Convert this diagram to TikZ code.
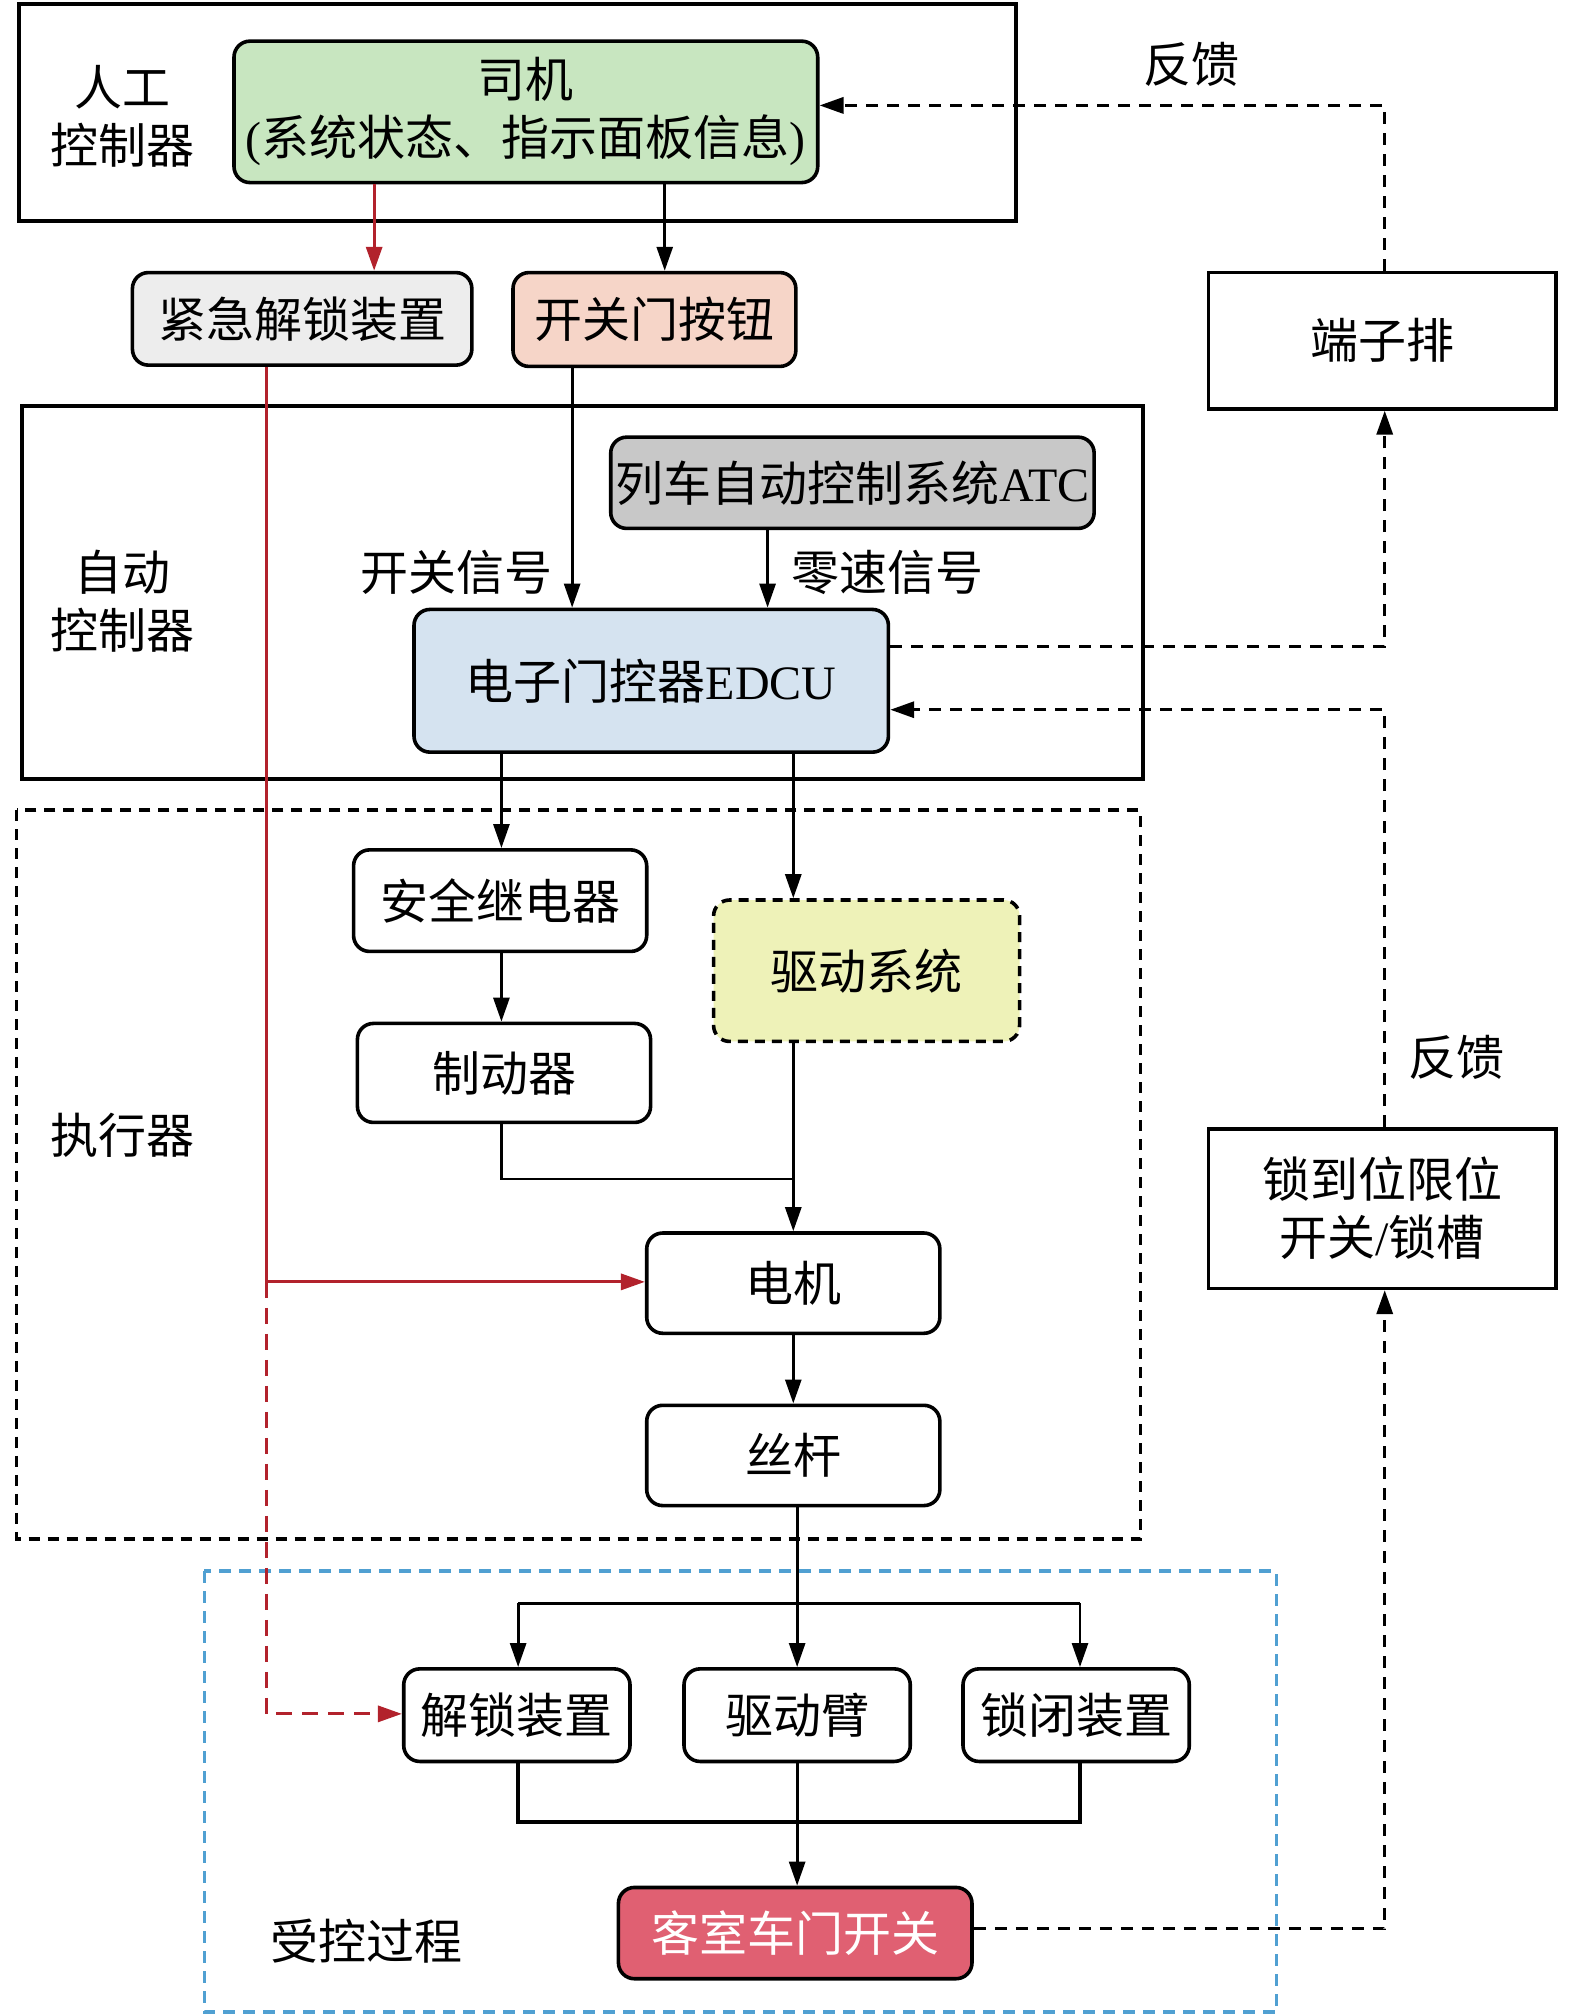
\documentclass[tikz,border=0pt]{standalone}
\usepackage{fontspec}
\setmainfont{Liberation Serif}
\newfontfamily\cjk{Noto Sans CJK SC}
\usetikzlibrary{arrows.meta}
\definecolor{cgreen}{RGB}{200,230,192}
\definecolor{cgraylt}{RGB}{237,237,237}
\definecolor{cpink}{RGB}{246,213,200}
\definecolor{cgray}{RGB}{200,200,200}
\definecolor{cblue}{RGB}{213,227,240}
\definecolor{cyellow}{RGB}{238,242,184}
\definecolor{cred}{RGB}{224,96,114}
\definecolor{redline}{RGB}{178,34,44}
\definecolor{blueline}{RGB}{80,160,210}
\newcommand\U{0.6429pt}
\tikzset{
  box/.style={draw=black, line width=1.8pt, rounded corners=8pt, inner sep=0pt, align=center, font=\cjk\fontsize{24pt}{29pt}\selectfont},
  sqbox/.style={draw=black, line width=1.8pt, inner sep=0pt, align=center, font=\cjk\fontsize{24pt}{29pt}\selectfont},
  lbl/.style={inner sep=0pt, align=center, font=\cjk\fontsize{24pt}{29pt}\selectfont},
  frame/.style={draw=black, line width=2pt},
  dframe/.style={draw=black, line width=1.7pt, dash pattern=on 5.5pt off 4pt},
  bframe/.style={draw=blueline, line width=1.7pt, dash pattern=on 6pt off 4pt},
  arr/.style={draw=black, line width=1.4pt, -{Triangle[length=12pt,width=8pt]}},
  ln/.style={draw=black, line width=1.4pt},
  thk/.style={draw=black, line width=1.8pt},
  rarr/.style={draw=redline, line width=1.6pt, -{Triangle[length=12pt,width=8pt]}},
  rln/.style={draw=redline, line width=1.6pt},
  rdarr/.style={draw=redline, line width=1.6pt, dash pattern=on 8pt off 5pt, -{Triangle[length=12pt,width=8pt]}},
  fb/.style={draw=black, line width=1.7pt, dash pattern=on 6pt off 4.5pt},
  fbarr/.style={fb, -{Triangle[length=12pt,width=8pt]}},
}
\begin{document}
\begin{tikzpicture}[x=0.6429pt,y=-0.6429pt]
\useasboundingbox (0,0) rectangle (1225,1568);
\fill[white] (0,0) rectangle (1225,1568);

% group frames
\draw[frame] (15,3) rectangle (790,172);
\draw[frame] (17,316) rectangle (889,606);
\draw[dframe] (13,630) rectangle (887,1197);
\draw[bframe] (159,1222) rectangle (993,1565);

% group labels
\node[lbl] (l1) at (95,68) {人工};
\node[lbl] (l2) at (95,113) {控制器};
\node[lbl] (l3) at (95,445) {自动};
\node[lbl] (l4) at (95,490) {控制器};
\node[lbl] (l5) at (95,883) {执行器};
\node[lbl] (l6) at (285,1510) {受控过程};
\node[lbl] (fb1) at (927,50) {反馈};
\node[lbl] (fb2) at (1133,822) {反馈};
\node[lbl] (s1) at (355,445) {开关信号};
\node[lbl] (s2) at (690,445) {零速信号};

% nodes
\node[box, fill=cgreen, minimum width=454*\U, minimum height=110*\U] (siji) at (409,87) {司机\\{\rmfamily(}系统状态、指示面板信息{\rmfamily)}};
\node[box, fill=cgraylt, minimum width=264*\U, minimum height=72*\U] (jinji) at (235,248) {紧急解锁装置};
\node[box, fill=cpink, minimum width=220*\U, minimum height=73*\U] (kg) at (509,248.5) {开关门按钮};
\node[sqbox, minimum width=270*\U, minimum height=106*\U] (dzp) at (1075,265) {端子排};
\node[box, fill=cgray, minimum width=376*\U, minimum height=71*\U] (atc) at (663,375.5) {列车自动控制系统{\rmfamily ATC}};
\node[box, fill=cblue, minimum width=369*\U, minimum height=111*\U] (edcu) at (506.5,529.5) {电子门控器{\rmfamily EDCU}};
\node[box, minimum width=228*\U, minimum height=79*\U] (aq) at (389,700.5) {安全继电器};
\node[box, minimum width=228*\U, minimum height=77*\U] (zd) at (392,834.5) {制动器};
\node[box, fill=cyellow, dash pattern=on 5pt off 3.5pt, minimum width=238*\U, minimum height=110*\U] (qdxt) at (674,755) {驱动系统};
\node[box, minimum width=228*\U, minimum height=78*\U] (dj) at (617,998) {电机};
\node[box, minimum width=228*\U, minimum height=78*\U] (sg) at (617,1132) {丝杆};
\node[box, minimum width=176*\U, minimum height=72*\U] (js) at (402,1334) {解锁装置};
\node[box, minimum width=176*\U, minimum height=72*\U] (qdb) at (620,1334) {驱动臂};
\node[box, minimum width=176*\U, minimum height=72*\U] (sb) at (837,1334) {锁闭装置};
\node[box, fill=cred, text=white, minimum width=275*\U, minimum height=71*\U] (ks) at (618.5,1503.5) {客室车门开关};
\node[sqbox, minimum width=270*\U, minimum height=124*\U] (sdw) at (1075,940) {锁到位限位\\开关{\rmfamily /}锁槽};

% x / y markers
\coordinate (x291) at (291,0);
\coordinate (x517) at (517,0);
\coordinate (x445) at (445,0);
\coordinate (x597) at (597,0);
\coordinate (x390) at (390,0);
\coordinate (x617) at (617,0);
\coordinate (x403) at (403,0);
\coordinate (x620) at (620,0);
\coordinate (x840) at (840,0);
\coordinate (x207) at (207,0);
\coordinate (x1077) at (1077,0);
\coordinate (y82) at (0,82);
\coordinate (y503) at (0,503);
\coordinate (y552) at (0,552);
\coordinate (y917) at (0,917);
\coordinate (y997) at (0,997);
\coordinate (y1247) at (0,1247);
\coordinate (y1333) at (0,1333);
\coordinate (y1417) at (0,1417);
\coordinate (y1500) at (0,1500);
\coordinate (jn) at (x617 |- y917);
\coordinate (rj) at (x207 |- y997);

% connectors
\draw[rarr] (siji.south -| x291) -- (jinji.north -| x291);
\draw[arr] (siji.south -| x517) -- (kg.north -| x517);
\draw[arr] (kg.south -| x445) -- (edcu.north -| x445);
\draw[arr] (atc.south -| x597) -- (edcu.north -| x597);
\draw[arr] (edcu.south -| x390) -- (aq.north -| x390);
\draw[arr] (edcu.south -| x617) -- (qdxt.north -| x617);
\draw[arr] (aq.south -| x390) -- (zd.north -| x390);
\draw[ln] (zd.south -| x390) |- (jn);
\draw[arr] (qdxt.south -| x617) -- (dj.north -| x617);
\draw[arr] (dj.south -| x617) -- (sg.north -| x617);
\draw[arr] (sg.south -| x620) -- (qdb.north -| x620);
\draw[thk] (x403 |- y1247) -- (x840 |- y1247);
\draw[arr] (x403 |- y1247) -- (js.north -| x403);
\draw[arr] (x840 |- y1247) -- (sb.north -| x840);
\draw[thk] (js.south -| x403) |- (x840 |- y1417) -- (sb.south -| x840);
\draw[arr] (qdb.south -| x620) -- (ks.north -| x620);

% red emergency path
\draw[rln] (jinji.south -| x207) -- (rj);
\draw[rarr] (rj) -- (dj.west |- y997);
\draw[rdarr] (rj) |- (js.west |- y1333);

% feedback
\draw[fbarr] (ks.east |- y1500) -| (sdw.south -| x1077);
\draw[fbarr] (sdw.north -| x1077) |- (edcu.east |- y552);
\draw[fbarr] (edcu.east |- y503) -| (dzp.south -| x1077);
\draw[fbarr] (dzp.north -| x1077) |- (siji.east |- y82);
\end{tikzpicture}
\end{document}
